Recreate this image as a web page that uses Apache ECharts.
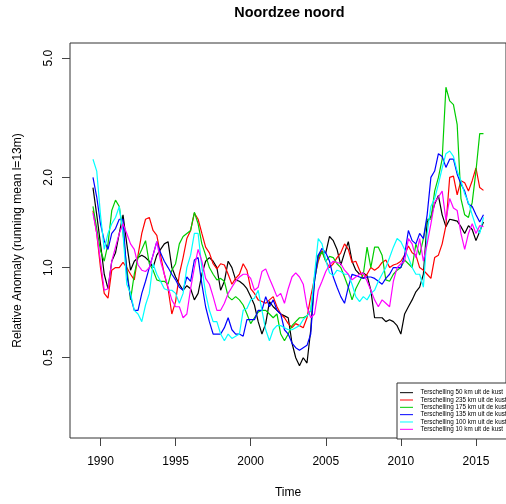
<!DOCTYPE html>
<html><head><meta charset="utf-8">
<script src="https://cdn.jsdelivr.net/npm/echarts@6/dist/echarts.min.js"></script>
<style>html,body{margin:0;padding:0;background:#fff}#c{width:506px;height:504px}</style>
</head><body><div id="c"></div>
<script>
// quarterly samples, first sample 1989.5, last 2015.5
const startYear = 1989.5;
const stepYear = 0.25;
const seriesNames = [
  'Terschelling 50 km uit de kust',
  'Terschelling 235 km uit de kust',
  'Terschelling 175 km uit de kust',
  'Terschelling 135 km uit de kust',
  'Terschelling 100 km uit de kust',
  'Terschelling 10 km uit de kust'
];
const xTicks = [1990, 1995, 2000, 2005, 2010, 2015];
const yTicks = [0.5, 1, 2, 5];

const km50 = [1.85,1.5,
 1.2,0.95,0.85,1.05, 1.12,1.3,1.5,1.2, 0.98,1.05,1.08,1.1, 1.08,1.05,1.0,1.1, 1.15,1.2,1.22,1.0,
 0.93,0.88,0.84,0.87, 0.85,0.78,0.82,0.95, 1.05,1.08,1.05,1.0, 0.84,0.9,1.05,1.0, 0.91,0.9,0.88,0.85,
 0.8,0.75,0.66,0.6, 0.65,0.77,0.74,0.72, 0.7,0.69,0.68,0.56, 0.5,0.47,0.5,0.48, 0.62,0.93,1.1,1.13,
 1.12,1.27,1.23,1.15, 1.02,1.12,1.22,1.05, 0.98,0.95,0.96,0.94, 0.84,0.68,0.68,0.68, 0.66,0.67,0.66,0.64,
 0.6,0.7,0.74,0.78, 0.83,0.86,0.95,1.42, 1.48,1.63,1.74,1.5, 1.37,1.45,1.44,1.43, 1.37,1.3,1.38,1.34,
 1.23,1.32,1.42];
const km235 = [1.55,1.3,
 1.0,0.82,0.79,0.98, 1.0,1.0,1.04,1.0, 0.95,0.91,1.1,1.3, 1.45,1.47,1.33,1.28, 1.1,0.95,0.85,0.7,
 0.77,0.95,1.08,1.25, 1.33,1.52,1.45,1.3, 1.17,1.12,1.03,0.99, 1.03,1.02,0.95,0.88, 0.92,0.95,1.03,0.98,
 0.85,0.82,0.78,0.77, 0.76,0.78,0.8,0.74, 0.7,0.68,0.65,0.63, 0.65,0.64,0.63,0.68, 0.8,0.92,1.05,1.14,
 1.05,1.0,1.03,1.08, 1.12,1.2,1.15,1.04, 1.05,0.98,0.92,0.95, 1.0,0.98,1.0,1.04, 1.06,1.0,1.02,1.03,
 1.05,1.1,1.18,1.12, 1.1,1.0,0.98,0.95, 0.92,1.08,1.1,1.2, 1.38,2.0,2.02,1.75, 1.95,1.92,1.8,1.95,
 2.15,1.85,1.81];
const km175 = [1.6,1.35,
 1.14,1.05,1.2,1.55, 1.68,1.6,1.3,1.0, 0.78,0.95,1.08,1.15, 1.23,1.03,0.98,0.91, 0.9,0.9,0.88,0.98,
 1.03,1.2,1.27,1.3, 1.33,1.53,1.4,1.2, 1.1,1.0,0.95,0.91, 0.92,0.9,0.8,0.78, 0.8,0.78,0.75,0.7,
 0.65,0.68,0.71,0.72, 0.72,0.7,0.68,0.7, 0.6,0.57,0.6,0.64, 0.66,0.68,0.68,0.69, 0.72,0.9,1.08,1.13,
 1.05,1.09,1.08,1.03, 1.0,0.93,0.86,0.78, 0.85,0.9,0.95,1.17, 1.0,1.17,1.17,1.1, 0.91,0.9,0.95,0.98,
 1.0,1.06,1.03,1.0, 1.2,1.1,1.25,1.45, 1.45,1.8,2.0,2.3, 4.0,3.6,3.5,3.0, 1.7,1.5,1.47,1.65,
 2.1,2.8,2.8];
const km135 = [2.0,1.72,
 1.4,1.23,1.15,1.3, 1.35,1.45,1.45,0.95, 0.8,0.72,0.72,0.82, 0.9,1.0,1.1,1.22, 1.12,1.05,1.0,0.95,
 0.91,0.86,0.84,0.93, 0.9,1.06,1.08,0.88, 0.74,0.66,0.6,0.6, 0.6,0.63,0.68,0.62, 0.6,0.6,0.59,0.67,
 0.67,0.67,0.72,0.72, 0.8,0.74,0.78,0.72, 0.7,0.62,0.6,0.56, 0.54,0.53,0.54,0.55, 0.6,0.9,1.1,1.16,
 1.12,1.05,0.93,0.86, 0.8,0.76,0.86,0.95, 0.94,0.93,0.92,0.93, 0.93,0.92,0.9,0.88, 0.92,0.95,1.0,1.0,
 1.0,1.1,1.33,1.23, 1.2,1.3,1.25,1.5, 2.0,2.1,2.4,2.35, 2.16,2.3,2.3,2.05, 1.9,1.8,1.63,1.6,
 1.5,1.42,1.5];
const km100 = [2.3,2.1,
 1.5,1.15,1.3,1.4, 1.47,1.6,1.3,0.88, 0.82,0.72,0.7,0.66, 0.75,0.82,1.03,0.95, 0.9,0.85,0.84,0.84,
 0.82,0.76,0.82,1.0, 1.1,1.3,1.3,1.0, 0.82,0.72,0.66,0.66, 0.6,0.57,0.6,0.58, 0.59,0.6,0.72,0.73,
 0.78,0.79,0.84,0.72, 0.62,0.57,0.62,0.64, 0.64,0.63,0.62,0.62, 0.63,0.64,0.67,0.69, 0.72,0.95,1.25,1.2,
 1.06,0.96,0.94,0.98, 0.97,0.95,0.95,0.88, 0.8,0.77,0.8,0.78, 0.82,0.84,0.9,0.95, 1.0,1.08,1.17,1.25,
 1.22,1.15,1.08,1.0, 0.95,0.95,0.86,1.3, 1.6,1.7,1.9,2.15, 2.4,2.45,2.35,2.1, 1.95,1.76,1.65,1.5,
 1.37,1.3,1.47];
const km10 = [1.52,1.3,
 1.05,0.84,0.85,1.05, 1.17,1.3,1.4,1.3, 1.2,1.15,1.02,0.98, 0.97,1.0,1.1,1.22, 1.05,0.95,0.86,0.78,
 0.74,0.74,0.68,0.7, 0.85,1.0,1.15,1.05, 0.92,0.88,0.8,0.72, 0.72,0.76,0.82,0.86, 0.9,0.93,0.95,0.95,
 0.92,0.84,0.86,0.97, 0.99,0.92,0.86,0.8, 0.82,0.76,0.85,0.93, 0.96,0.93,0.88,0.74, 0.68,0.7,0.84,0.9,
 0.97,1.02,1.05,1.04, 1.03,0.98,0.95,0.91, 0.93,0.95,0.96,0.9, 0.84,0.78,0.74,0.78, 0.76,0.74,0.9,1.0,
 1.03,1.05,1.25,1.2, 1.08,1.25,1.05,1.2, 1.4,1.65,1.72,1.8, 1.44,1.7,1.58,1.55, 1.3,1.15,1.3,1.4,
 1.3,1.38,1.37];
const seriesValues = [km50, km235, km175, km135, km100, km10];
const seriesColors = ['#000000','#ff0000','#00cd00','#0000ff','#00ffff','#ff00ff'];

const FONT = '"Liberation Sans", Arial, Helvetica, sans-serif';
const chart = echarts.init(document.getElementById('c'), null, {renderer:'canvas'});

const series = seriesValues.map((vals, k) => ({
  name: seriesNames[k],
  type: 'line',
  showSymbol: false,
  symbol: 'none',
  animation: false,
  lineStyle: {color: seriesColors[k], width: 1.2},
  itemStyle: {color: seriesColors[k]},
  data: vals.map((v, i) => [startYear + i * stepYear, v])
}));

chart.setOption({
  animation: false,
  backgroundColor: '#ffffff',
  grid: {left: 70, top: 43, width: 439, height: 395, show: true, borderColor: '#333', borderWidth: 1, backgroundColor: 'transparent', containLabel: false},
  graphic: [{
    type: 'text', x: 289.5, y: 13,
    style: {text: 'Noordzee noord', font: 'bold 14.4px ' + FONT, fill: '#000', textAlign: 'center', textVerticalAlign: 'middle'}
  }],
  legend: {
    left: 397, top: 383, orient: 'vertical',
    data: seriesNames,
    icon: 'rect', itemWidth: 13, itemHeight: 1, itemGap: 0,
    padding: [6, 20, 6, 3],
    borderColor: '#333', borderWidth: 1, backgroundColor: '#fff',
    selectedMode: false,
    textStyle: {fontSize: 6.3, lineHeight: 7.33, color: '#000', fontFamily: FONT, padding: [0, 0, 0, 2.5]}
  },
  xAxis: {
    type: 'value', min: 1987.97, max: 2017.0,
    name: 'Time', nameLocation: 'middle', nameGap: 49,
    nameTextStyle: {fontSize: 12, color: '#000', fontFamily: FONT},
    axisLine: {show: false},
    splitLine: {show: false},
    axisTick: {show: true, inside: false, length: 8, customValues: xTicks, lineStyle: {color: '#444', width: 1}},
    axisLabel: {customValues: xTicks, fontSize: 12, color: '#000', fontFamily: FONT, margin: 18, formatter: v => String(v)}
  },
  yAxis: {
    type: 'log', logBase: 10, min: 0.2698, max: 5.62,
    name: 'Relative Anomaly (running mean l=13m)', nameLocation: 'middle', nameGap: 46, nameRotate: 90,
    nameTextStyle: {fontSize: 12, color: '#000', fontFamily: FONT},
    axisLine: {show: false},
    splitLine: {show: false},
    axisTick: {show: true, inside: false, length: 8, customValues: yTicks, lineStyle: {color: '#444', width: 1}},
    axisLabel: {customValues: yTicks, rotate: 90, fontSize: 12, color: '#000', fontFamily: FONT, margin: 15,
      formatter: v => Number(v).toFixed(1)}
  },
  series: series
});
</script></body></html>
